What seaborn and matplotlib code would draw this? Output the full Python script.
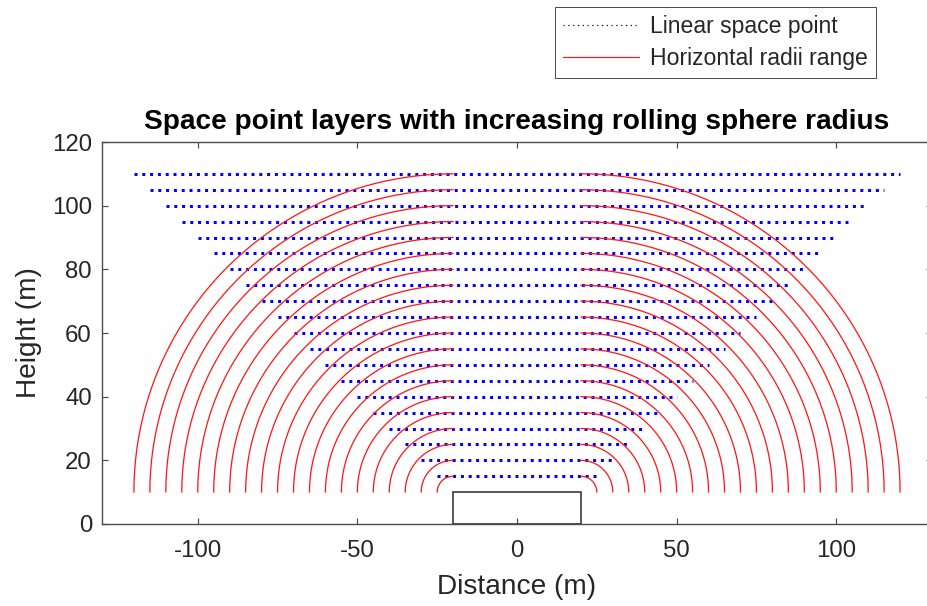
import numpy as np
import pandas as pd
import matplotlib
matplotlib.use("Agg")
import matplotlib.pyplot as plt
import seaborn as sns
from matplotlib.lines import Line2D
from matplotlib.patches import Rectangle

# rolling sphere radii (m), one layer per radius
radii = [5, 10, 15, 20, 25, 30, 35, 40, 45, 50,
         55, 60, 65, 70, 75, 80, 85, 90, 95, 100]
# layer heights (m) = ground + radius
layer_heights = [15, 20, 25, 30, 35, 40, 45, 50, 55, 60,
                 65, 70, 75, 80, 85, 90, 95, 100, 105, 110]
building_half_width = 20
building_height = 10

x_ticks = [-100, -50, 0, 50, 100]
y_ticks = [0, 20, 40, 60, 80, 100, 120]

# build arc table (quarter circles from the building corners)
theta = np.linspace(0, np.pi / 2, 120)
arc_rows = []
for r in radii:
    for side in (-1, 1):
        cx = side * building_half_width
        xs = cx + side * r * np.cos(theta)
        ys = building_height + r * np.sin(theta)
        for xv, yv in zip(xs, ys):
            arc_rows.append({"arc": f"{side}_{r}", "x": xv, "y": yv})
arcs = pd.DataFrame(arc_rows)

# dotted space-point layers
layer_rows = []
for r, h in zip(radii, layer_heights):
    half = building_half_width + r
    layer_rows.append({"layer": h, "x": -half, "y": h})
    layer_rows.append({"layer": h, "x": half, "y": h})
layers = pd.DataFrame(layer_rows)

sns.set_theme(style="ticks")
plt.rcParams['font.family'] = ['Liberation Sans', 'DejaVu Sans']
plt.rcParams['axes.unicode_minus'] = False

dark = "#262626"
fig = plt.figure(figsize=(927 / 72, 606 / 72), dpi=72)
ax = fig.add_axes([102 / 927, 82 / 606, 830 / 927, 382 / 606])

sns.lineplot(data=layers, x="x", y="y", units="layer", estimator=None,
             sort=False, color="blue", lw=3.0,
             linestyle=(0, (1, 1.6)), dash_capstyle="butt", ax=ax,
             legend=False)
sns.lineplot(data=arcs, x="x", y="y", units="arc", estimator=None,
             sort=False, color="#ff1a1a", lw=1.3, ax=ax, legend=False)

ax.add_patch(Rectangle((-building_half_width, 0), 2 * building_half_width,
                       building_height, fill=False, edgecolor="#333333",
                       lw=1.6, zorder=5))

ax.set_xlim(-130, 130)
ax.set_ylim(0, 120)
ax.set_xticks(x_ticks)
ax.set_yticks(y_ticks)
ax.tick_params(direction="in", length=6, width=1.2, colors="#4d4d4d",
               labelcolor=dark, labelsize=24, top=True, right=True)
ax.tick_params(axis="x", pad=16)
ax.tick_params(axis="y", pad=10)
for sp in ax.spines.values():
    sp.set_color("#4d4d4d")
    sp.set_linewidth(1.4)

ax.set_xlabel("Distance (m)", fontsize=28, color=dark, labelpad=12)
ax.set_ylabel("Height (m)", fontsize=28, color=dark, labelpad=10)
ax.set_title("Space point layers with increasing rolling sphere radius",
             fontsize=28, fontweight="bold", color="black", pad=13)

handles = [Line2D([], [], color="black", lw=1.2, linestyle=(0, (1, 3))),
           Line2D([], [], color="#ff1a1a", lw=1.2)]
fig.legend(handles, ["Linear space point", "Horizontal radii range"],
           loc="upper right", bbox_to_anchor=(876 / 927, 1 - 7 / 606),
           fontsize=23, frameon=True, fancybox=False, framealpha=1,
           edgecolor="#4d4d4d", handlelength=3.3, borderpad=0.35,
           labelspacing=0.38, handletextpad=0.5, borderaxespad=0)

fig.savefig("out.png", dpi=72)
